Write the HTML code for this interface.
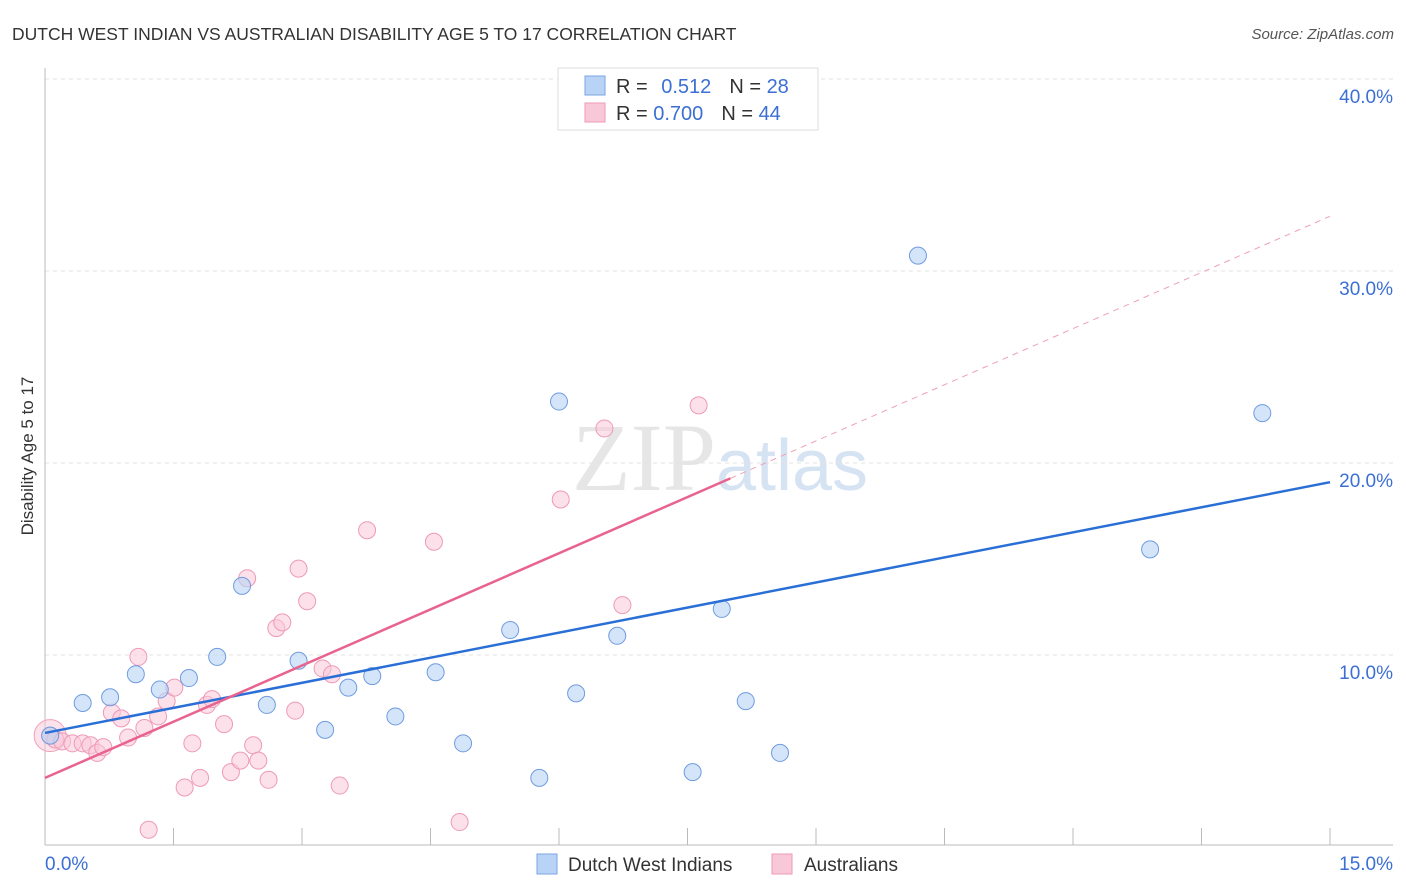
<!DOCTYPE html>
<html><head><meta charset="utf-8"><style>
body{margin:0;background:#fff;font-family:"Liberation Sans",sans-serif}
</style></head><body>
<svg id="chart" width="1406" height="892" xmlns="http://www.w3.org/2000/svg" style="display:block">
<text x="12" y="40" font-size="17.5" fill="#333">DUTCH WEST INDIAN VS AUSTRALIAN DISABILITY AGE 5 TO 17 CORRELATION CHART</text>
<text x="1394" y="39" font-size="15" fill="#555" text-anchor="end" font-style="italic">Source: ZipAtlas.com</text>
<text x="720" y="490" font-size="96" text-anchor="middle" fill="#e6e6e6" font-family="Liberation Serif, serif">ZIP<tspan fill="#d5e3f3" font-family="Liberation Sans, sans-serif" font-size="72">atlas</tspan></text>
<text transform="translate(33,456) rotate(-90)" font-size="17" fill="#333" text-anchor="middle">Disability Age 5 to 17</text>
<g id="grid"></g><g id="axes"></g><g id="marks"></g>
<g>
<rect x="558" y="68" width="260" height="62" fill="#fff" stroke="#ddd"/>
<rect x="585" y="76" width="20" height="19" fill="#b8d3f5" stroke="#7aa6e3"/>
<rect x="585" y="103" width="20" height="19" fill="#f9c8d8" stroke="#ee9ab6"/>
<text x="616" y="93" font-size="20" fill="#333">R = <tspan fill="#3b6fd4" dx="8">0.512</tspan><tspan dx="18" fill="#333">N = </tspan><tspan fill="#3b6fd4">28</tspan></text>
<text x="616" y="120" font-size="20" fill="#333">R = <tspan fill="#3b6fd4">0.700</tspan><tspan dx="18" fill="#333">N = </tspan><tspan fill="#3b6fd4">44</tspan></text>
</g>
<g>
<rect x="537" y="854" width="20" height="20" fill="#b8d3f5" stroke="#7aa6e3"/>
<text x="568" y="871" font-size="19" fill="#333">Dutch West Indians</text>
<rect x="772" y="854" width="20" height="20" fill="#f9c8d8" stroke="#ee9ab6"/>
<text x="804" y="871" font-size="19" fill="#333">Australians</text>
</g>
</svg>
<script>
const yTicks=[10,20,30,40];
const xTickLabels=["0.0%","15.0%"];
const blueX=[0.06,0.44,0.76,1.06,1.34,1.68,2.01,2.30,2.59,2.96,3.27,3.54,3.82,4.09,4.56,4.88,5.43,5.77,6.00,6.20,6.68,7.56,7.90,8.18,8.58,10.19,12.90,14.21];
const blueY=[5.8,7.5,7.8,9.0,8.2,8.8,9.9,13.6,7.4,9.7,6.1,8.3,8.9,6.8,9.1,5.4,11.3,3.6,23.2,8.0,11.0,3.9,12.4,7.6,4.9,30.8,15.5,22.6];
const pinkX=[0.06,0.12,0.2,0.32,0.44,0.53,0.61,0.68,0.78,0.89,0.97,1.09,1.16,1.21,1.32,1.42,1.51,1.63,1.72,1.81,1.89,1.95,2.09,2.17,2.28,2.36,2.43,2.49,2.61,2.70,2.77,2.92,2.96,3.06,3.24,3.35,3.44,3.76,4.54,4.84,6.02,6.53,6.74,7.63];
const pinkY=[5.8,5.6,5.5,5.4,5.4,5.3,4.9,5.2,7.0,6.7,5.7,9.9,6.2,0.9,6.8,7.6,8.3,3.1,5.4,3.6,7.4,7.7,6.4,3.9,4.5,14.0,5.3,4.5,3.5,11.4,11.7,7.1,14.5,12.8,9.3,9.0,3.2,16.5,15.9,1.3,18.1,21.8,12.6,23.0];
const blueLine=[5.94,19.0];
const pinkLine=[3.6,1.95];
const NS='http://www.w3.org/2000/svg';
const sx=v=>45+v/15*1285, sy=v=>847-v*19.2;
function mk(p,t,a){const e=document.createElementNS(NS,t);for(const k in a)e.setAttribute(k,a[k]);p.appendChild(e);return e;}
const grid=document.getElementById('grid'),axes=document.getElementById('axes'),marks=document.getElementById('marks');
yTicks.forEach(t=>{
 const l=mk(grid,'line',{x1:45,x2:1393,y1:sy(t),y2:sy(t),stroke:'#e3e3e3','stroke-dasharray':'4,4'});
 
 
 const tx=mk(grid,'text',{x:1393,y:sy(t)+24,'font-size':19,fill:'#3b6fd4','text-anchor':'end'});tx.textContent=t.toFixed(1)+'%';
 
 
});
const ax=mk(axes,'line',{x1:45,x2:1393,y1:845,y2:845,stroke:'#bbb'});


const ay=mk(axes,'line',{x1:45,x2:45,y1:68,y2:845,stroke:'#bbb'});


for(let i=1;i<=10;i++){const t=mk(axes,'line',{x1:sx(i*1.5),x2:sx(i*1.5),y1:828,y2:845,stroke:'#bbb'});
 
 }
[[0,'start',45],[1,'end',1393]].forEach(([i,a,x])=>{const t=mk(axes,'text',{x:x,y:870,'font-size':19,fill:'#3b6fd4','text-anchor':a});t.textContent=xTickLabels[i];
 
 });
mk(marks,'circle',{cx:sx(0.06),cy:sy(5.8),r:16,fill:'rgba(249,200,216,0.5)',stroke:'#f0a0bb'});
pinkX.forEach((x,i)=>{const c=mk(marks,'circle',{cx:sx(x),cy:sy(pinkY[i]),r:8.5,fill:'rgba(249,200,216,0.55)',stroke:'#ee9ab6','stroke-width':1});
 
 });
blueX.forEach((x,i)=>{const c=mk(marks,'circle',{cx:sx(x),cy:sy(blueY[i]),r:8.5,fill:'rgba(184,211,245,0.6)',stroke:'#6f9be0','stroke-width':1});
 
 });
const bl=mk(marks,'line',{x1:sx(0),y1:sy(blueLine[0]),x2:sx(15),y2:sy(blueLine[1]),stroke:'#2a6fd6','stroke-width':2.5});


const pl=mk(marks,'line',{x1:sx(0),y1:sy(pinkLine[0]),x2:sx(8),y2:sy(pinkLine[0]+pinkLine[1]*8),stroke:'#e8638e','stroke-width':2.5});


const pd=mk(marks,'line',{x1:sx(8),y1:sy(pinkLine[0]+pinkLine[1]*8),x2:sx(15),y2:sy(pinkLine[0]+pinkLine[1]*15),stroke:'#eea0b8','stroke-width':1,'stroke-dasharray':'6,5'});


</script>
</body></html>
